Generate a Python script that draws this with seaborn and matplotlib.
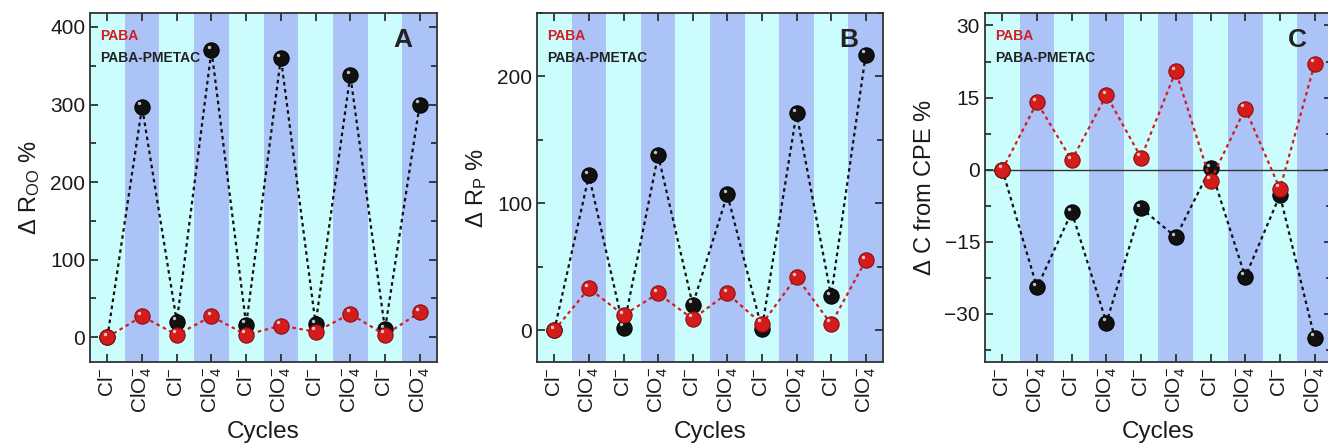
import matplotlib
matplotlib.use("Agg")
import matplotlib.pyplot as plt
import matplotlib.transforms as mtrans
import numpy as np
import seaborn as sns

cycles = np.arange(10)
ion_labels = [r"Cl$^{-}$", r"ClO$_{4}^{-}$"] * 5

# panel A: delta R_oo %
a_paba = [0, 27, 3, 27, 3, 15, 7, 30, 3, 32]
a_pmetac = [0, 297, 20, 370, 16, 360, 17, 338, 10, 300]

# panel B: delta R_p %
b_paba = [0, 33, 12, 29, 9, 29, 5, 42, 5, 55]
b_pmetac = [0, 122, 2, 138, 20, 107, 1, 171, 27, 217]

# panel C: delta C from CPE %
c_paba = [0, 14, 2, 15.5, 2.5, 20.5, -2.3, 12.7, -4, 22]
c_pmetac = [0, -24.5, -8.8, -31.8, -8, -14, 0.3, -22.3, -5.3, -35]

RED = "#d41c1c"
BLACK = "#111111"
CYAN = "#ccfdfd"
BLUE = "#abc3f7"

sns.set_theme(style="ticks")
plt.rcParams["font.family"] = ["Liberation Sans", "DejaVu Sans"]
plt.rcParams["mathtext.fontset"] = "custom"
plt.rcParams["mathtext.rm"] = "Liberation Sans"
plt.rcParams["mathtext.it"] = "Liberation Sans:italic"
plt.rcParams["mathtext.bf"] = "Liberation Sans:bold"
plt.rcParams["text.color"] = "#1a1a1a"
plt.rcParams["xtick.labelcolor"] = "#1a1a1a"
plt.rcParams["ytick.labelcolor"] = "#1a1a1a"
plt.rcParams["axes.labelcolor"] = "#1a1a1a"


def sphere(ax, x, y, color, edge, z):
    sns.lineplot(x=x, y=y, ax=ax, color=color, linestyle=(0, (1.6, 1.6)), linewidth=1.6,
                 marker="o", markersize=11, markerfacecolor=color, markeredgecolor=edge,
                 markeredgewidth=0.8, zorder=z)
    # small highlight to mimic the shaded balls
    off = mtrans.offset_copy(ax.transData, fig=ax.figure, x=-2, y=2.5, units="points")
    ax.scatter(x, y, s=6, color="white", alpha=0.75, transform=off, zorder=z + 0.5, linewidths=0)


def panel(ax, paba, pmetac, ylim, major, minor, ylabel, letter, zero_line=False):
    for i in cycles:
        ax.axvspan(i - 0.5, i + 0.5, color=CYAN if i % 2 == 0 else BLUE, lw=0, zorder=0)
    if zero_line:
        ax.axhline(0, color="#333333", lw=1.0, zorder=1)
    sphere(ax, cycles, pmetac, BLACK, "#000000", 3)
    sphere(ax, cycles, paba, RED, "#8a0f0f", 5)
    ax.set_xlim(-0.5, 9.5)
    ax.set_ylim(*ylim)
    ax.set_xticks(cycles)
    ax.set_xticklabels(ion_labels, rotation=90, fontsize=15)
    ax.set_yticks(major)
    ax.set_yticks(minor, minor=True)
    ax.tick_params(axis="y", labelsize=15)
    ax.tick_params(which="both", direction="in", top=True, right=True, width=1.2, color="#222222")
    ax.tick_params(which="major", length=6)
    ax.tick_params(which="minor", length=4)
    for s in ax.spines.values():
        s.set_linewidth(1.3)
        s.set_color("#333333")
    ax.set_xlabel("Cycles", fontsize=17.5, labelpad=6)
    ax.set_ylabel(ylabel, fontsize=17, labelpad=6)
    ax.text(0.03, 0.934, "PABA", color=RED, fontsize=10, fontweight="bold",
            transform=ax.transAxes, va="center")
    ax.text(0.03, 0.871, "PABA-PMETAC", color="#222222", fontsize=10, fontweight="bold",
            transform=ax.transAxes, va="center")
    ax.text(0.90, 0.923, letter, color="#222222", fontsize=19, fontweight="bold",
            transform=ax.transAxes, ha="center", va="center")


fig = plt.figure(figsize=(13.28, 4.45), dpi=100)
ax_a = fig.add_axes([0.0678, 0.1865, 0.2613, 0.7843])
ax_b = fig.add_axes([0.4044, 0.1865, 0.2605, 0.7843])
ax_c = fig.add_axes([0.7417, 0.1865, 0.2613, 0.7843])

panel(ax_a, a_paba, a_pmetac, (-32, 418), [0, 100, 200, 300, 400],
      np.arange(-0, 401, 50), r"$\Delta$ R$_{\mathrm{OO}}$ %", "A")
panel(ax_b, b_paba, b_pmetac, (-25, 250), [0, 100, 200],
      np.arange(0, 251, 50), r"$\Delta$ R$_{\mathrm{P}}$ %", "B")
panel(ax_c, c_paba, c_pmetac, (-40, 32.6), [-30, -15, 0, 15, 30],
      np.arange(-37.5, 31, 7.5), r"$\Delta$ C from CPE %", "C", zero_line=True)

fig.savefig("out.png", dpi=100)
